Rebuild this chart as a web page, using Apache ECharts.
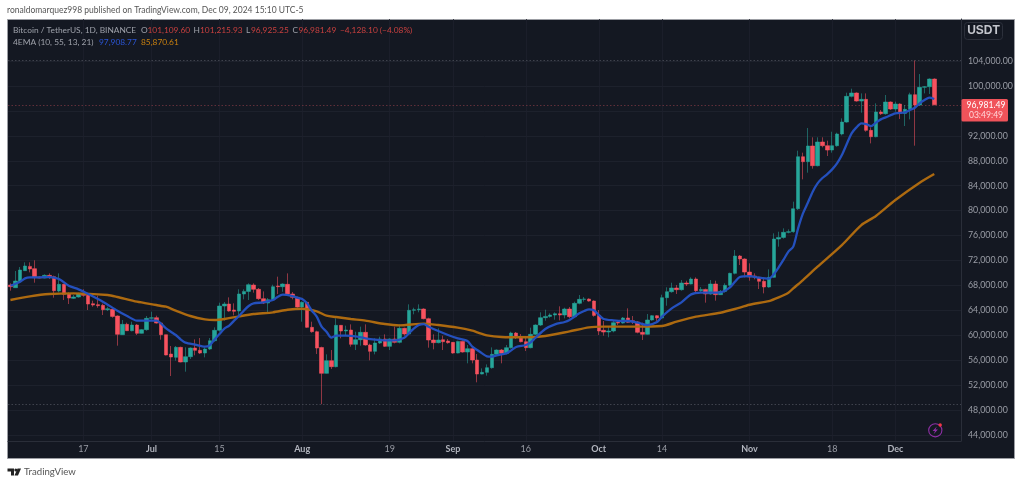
<!DOCTYPE html>
<html><head><meta charset="utf-8">
<style>html,body{margin:0;padding:0;background:#fff}#c{width:1023px;height:484px}</style>
<script src="https://cdn.jsdelivr.net/npm/echarts@6/dist/echarts.min.js"></script>
</head><body><div id="c"></div>
<script>
// each row: open, close, low, high — daily from 2024-06-02
const candles = [
[68070,67800,67160,68340],[67640,68710,67640,70320],[68600,70480,68600,70960],[70370,71120,70370,71710],[71060,70640,70100,71710],
[70690,69250,68440,72030],[69350,69190,69140,69460],[69190,69620,69140,69780],[69620,69410,69030,69940],[69410,67160,66040,69570],
[67110,68180,66890,69940],[68180,66570,65660,68280],[66680,65980,65020,66890],[65930,66150,65820,66470],[66150,66630,66040,66840],
[66730,66410,66200,67380],[66410,65020,64060,66730],[65080,64860,64590,65560],[64920,64760,64430,66360],[64810,64110,63260,65080],
[64110,64270,63900,64590],[64170,63040,62830,64330],[63100,60160,58340,63200],[60100,61760,60050,62460],[61760,60740,60690,62030],
[60740,61650,60640,62190],[61650,60320,60050,61810],[60320,60910,60260,61010],[60910,62720,60740,63100],[62720,62830,62510,63790],
[62830,61970,61870,63150],[61970,60100,59300,62030],[60100,56840,56790,60100],[57000,56520,53470,58290],[56470,58070,55930,58290],
[58070,55720,55670,58180],[55720,56570,54170,58070],[56570,57960,56200,58070],[57960,57590,56790,59350],[57590,57160,57000,59570],
[57160,57800,56470,58070],[57800,59140,57640,59570],[59140,60800,58980,61280],[60800,64700,60580,65240],[64700,65020,62350,65340],
[65020,63900,63790,66090],[64060,63850,63200,65130],[63900,66630,63260,67380],[66630,67050,65770,67380],[67050,68120,65660,68340],
[68070,67380,66840,68340],[67380,65880,65660,67590],[65880,65180,65020,67050],[65180,65720,63420,65980],[65720,67800,65560,68120],
[67910,67800,66630,69410],[67800,68230,66990,68340],[68180,66630,66520,69940],[66630,66090,65770,66950],[66090,64540,64430,66200],
[64540,65290,62190,65450],[65290,61280,61170,65400],[61280,60580,60420,62190],[60580,57960,57000,60740],[58050,53900,48950,58180],
[53900,55930,53850,56950],[55930,54970,54600,57640],[54970,61600,54860,62720],[61600,60690,59520,61650],[60690,60850,60050,61550],
[60850,58550,58180,61760],[58550,59300,57640,60580],[59300,60480,58340,61390],[60480,58450,58340,61760],[58450,57430,55990,58660],
[57430,58770,56950,59520],[58770,59410,58610,59780],[59410,58230,58130,60160],[58230,59410,57640,59520],[59410,58870,58710,61390],
[58870,61120,58710,61760],[61120,60210,59940,61230],[60210,64010,60160,64970],[64010,64110,63370,64430],[64110,64220,63690,64970],
[64220,62670,62560,64330],[62670,59250,58020,62830],[59250,58820,57750,60160],[58820,59250,58710,61120],[59300,58980,57640,59940],
[59090,58820,58660,59410],[58870,57160,57050,58930],[57160,59030,57110,59140],[59030,57320,57220,59190],[57320,57860,55510,58450],
[57860,56040,55510,58180],[56040,53790,52460,57000],[53790,54060,53740,54700],[54060,54810,53530,55340],[54810,56950,54650,58070],
[56950,57640,56730,57750],[57640,57110,55510,57800],[57110,58020,56950,58450],[58020,60370,57860,60580],[60370,59680,59410,60530],
[59680,58980,58870,60210],[58980,58020,57480,59780],[58020,60160,57910,61230],[60160,61650,60050,61760],[61650,62830,61490,63690],
[62830,63040,62350,64110],[63040,63260,62830,63530],[63260,63470,62510,63690],[63470,63260,62400,64650],[63260,64220,62720,64430],
[64220,62990,62720,64540],[62990,65130,62830,65400],[65130,65770,64970,66470],[65770,65820,65400,66150],[65820,65500,65400,65930],
[65500,63200,62990,65610],[63200,60690,60050,64060],[60800,60530,59940,62300],[60530,60690,59680,61390],[60690,62030,60480,62300],
[62080,61970,61650,62460],[61970,62780,61870,62940],[62780,62080,61970,64330],[62350,62130,61810,63100],[62130,60480,60320,62300],
[60480,60160,59250,62030],[60160,62460,60100,63420],[62460,63150,62350,63260],[63150,62780,62300,63260],[62780,66040,62670,66520],
[66040,67000,64750,67700],[67000,67590,66840,68440],[67590,67320,66630,68070],[67320,68390,67160,68870],[68390,68230,67910,68760],
[68230,69030,68180,69300],[69030,67160,66950,69300],[67160,67370,66950,67750],[67370,66630,65240,67480],[66630,68230,66520,68870],
[68230,66520,65560,68760],[66520,67050,66470,67270],[67050,68020,66840,68340],[68020,69940,67800,70050],[69940,72720,69780,73680],
[72720,72240,71280,72880],[72240,70150,69300,72350],[70150,69350,68760,71550],[69510,69350,68980,69940],[69300,68660,67430,69410],
[68660,67750,66730,69300],[67750,69300,67640,70580],[69300,75450,69230,76360],[75450,75710,74220,76620],[75710,76520,75500,77160],
[76520,76620,76360,77000],[76620,80310,76460,81440],[80310,88650,80100,89620],[88650,87850,85020,89300],[87850,90370,86090,93250],
[90370,87210,86730,91760],[87210,91010,87100,91760],[91010,90420,90150,91760],[90420,89720,88760,91220],[89720,90420,89300,92660],
[90420,92290,90260,92500],[92290,94210,92070,94800],[94210,98330,94100,98920],[98330,98870,98170,99560],[98870,97580,97480,98970],
[97580,97850,95710,98810],[97850,92880,92660,98810],[92880,91860,90790,93360],[91860,95820,91760,97210],[95820,95550,95340,96140],
[95550,97420,95390,98550],[97420,96300,96140,97530],[96300,97100,95870,97480],[97100,95600,94700,97210],[95600,96250,93570,96940],
[96250,98600,94640,98920],[98600,96940,90420,104090],[96940,99780,96780,101910],[99780,99880,98810,99990],[99880,101110,98710,101220],
[101109.6,96981.49,96925.25,101215.93]
];
// [day number from the first candle, value]
const emaFast = [[0,67960],[2,68600],[3,69140],[4,69300],[6,69300],[8,69350],[10,69030],[12,67960],[14,67380],[16,66630],[19,65400],[22,63950],[24,63100],[26,62350],[28,62350],[30,62350],[32,61120],[33,60580],[34,60050],[35,59350],[36,58820],[38,58500],[40,58180],[41,58390],[42,59350],[43,60210],[44,61070],[45,61550],[46,62350],[47,63100],[48,63950],[49,64700],[50,65130],[52,65290],[54,65660],[55,66200],[56,66520],[58,66300],[59,66040],[60,65820],[61,65130],[62,63950],[63,63000],[64,61390],[65,60580],[66,59620],[67,59940],[69,59940],[71,59840],[73,59520],[75,59300],[77,59190],[79,59190],[81,59620],[82,60370],[83,61120],[84,61650],[85,61810],[86,61390],[88,60690],[90,60050],[92,59520],[94,59090],[95,58180],[96,57640],[97,57110],[98,56630],[99,56570],[100,56790],[102,57110],[103,57590],[104,58130],[106,58450],[107,58870],[108,59620],[110,61010],[112,61760],[114,62140],[115,62460],[116,62990],[117,63530],[118,63900],[119,64170],[120,64010],[121,63260],[122,62620],[124,62400],[126,62300],[127,62300],[129,62030],[131,61650],[133,62130],[134,62990],[136,64330],[138,65290],[140,66570],[142,66840],[144,66840],[146,66890],[148,67700],[149,68600],[150,69350],[152,69510],[154,69250],[156,69090],[157,69800],[158,70900],[159,72130],[160,73420],[161,74220],[162,77160],[163,79560],[164,81270],[165,83040],[166,84380],[167,85230],[168,85870],[169,86620],[170,87580],[171,88920],[172,90690],[173,92400],[174,93360],[175,94000],[176,93890],[177,93570],[178,94110],[179,94640],[180,94960],[182,95600],[184,95770],[185,96140],[186,96510],[187,97210],[188,97740],[189,98120],[190,97908.77]];
const emaSlow = [[0,65660],[4,66250],[8,66630],[13,66730],[20,66470],[22,66150],[26,65400],[30,64860],[31,64700],[32,64590],[34,63950],[37,63100],[40,62560],[42,62460],[44,62620],[47,63040],[50,63420],[54,63690],[57,64110],[60,64270],[63,63850],[65,63150],[67,62940],[70,62620],[73,62350],[77,61810],[80,61600],[85,61870],[88,61650],[92,61230],[95,60750],[96,60480],[98,60000],[101,59730],[106,59680],[110,59890],[115,60640],[119,61280],[122,61390],[127,61390],[128,61390],[134,61490],[137,62190],[141,62990],[146,63630],[149,64220],[152,64910],[156,65500],[158,66090],[160,66840],[161,67530],[163,68870],[166,71010],[171,74480],[175,77690],[178,79140],[182,81700],[187,84480],[190,85870.61]];
const xTickDates = ['2024-06-17','2024-07-01','2024-07-15','2024-08-01','2024-08-19','2024-09-01','2024-09-16','2024-10-01','2024-10-14','2024-11-01','2024-11-18','2024-12-01'];
const xTickLabels = ['17','Jul','15','Aug','19','Sep','16','Oct','14','Nov','18','Dec'];
const yTicks = [44000,48000,52000,56000,60000,64000,68000,72000,76000,80000,84000,88000,92000,96000,100000,104000];
const highLine = 104088, lowLine = 48950, lastPrice = 96981.49;
const emptyDaysAfter = 5;

const FONT = 'Lato, sans-serif';
const categories = [];
for (let i = 0; i < candles.length + emptyDaysAfter; i++) {
  categories.push(new Date(Date.UTC(2024, 5, 2 + i)).toISOString().slice(0, 10));
}
const fmt = v => v.toLocaleString('en-US', {minimumFractionDigits: 2, maximumFractionDigits: 2});
const pairs = a => a.map(p => [categories[p[0]], p[1]]);

const txt = (x, y, s, fill, size, extra) => ({type: 'text', x, y, silent: true, z: 50,
  style: Object.assign({text: s, fill, font: `${size || 9}px ${FONT}`, textVerticalAlign: 'middle'}, extra || {})});

const G = '#9ea1aa', R = '#c9403f', LS = 8.35;
const graphic = [
  {type: 'rect', z: -10, silent: true, shape: {x: 7.5, y: 19.5, width: 1007, height: 439},
   style: {fill: '#141822', stroke: '#9b9da3', lineWidth: 1}},
  txt(7, 10.5, 'ronaldomarquez998 published on TradingView.com, Dec 09, 2024 15:10 UTC-5', '#565656', 8.5),
  txt(13, 30, 'Bitcoin / TetherUS, 1D, BINANCE', G, LS),
  txt(141, 30, 'O', G, LS), txt(147.5, 30, '101,109.60', R, LS),
  txt(193.5, 30, 'H', G, LS), txt(200, 30, '101,215.93', R, LS),
  txt(246, 30, 'L', G, LS), txt(251, 30, '96,925.25', R, LS),
  txt(292.5, 30, 'C', G, LS), txt(298.5, 30, '96,981.49', R, LS),
  txt(340, 30, '\u22124,128.10 (\u22124.08%)', R, LS),
  txt(13, 42, '4EMA (10, 55, 13, 21)', G, LS),
  txt(99, 42, '97,908.77', '#2a55d6', LS),
  txt(141, 42, '85,870.61', '#c9800f', LS),
  {type: 'rect', z: 50, silent: true, shape: {x: 964.5, y: 22.5, width: 38, height: 17, r: 3},
   style: {fill: '#141822', stroke: '#2c303b', lineWidth: 1}},
  txt(983.5, 31, 'USDT', '#c4c6cd', 9, {textAlign: 'center', fontWeight: 'bold'}),
  {type: 'rect', z: 50, silent: true, shape: {x: 961.5, y: 99, width: 46.5, height: 22.5, r: 1.5}, style: {fill: '#f0535a'}},
  txt(986, 105, fmt(lastPrice), '#ffffff', 8.6, {textAlign: 'center'}),
  txt(986, 115, '03:49:49', '#ffd5d8', 8.6, {textAlign: 'center'}),
  // lightning badge
  {type: 'circle', z: 50, silent: true, shape: {cx: 935.3, cy: 430.3, r: 6.6}, style: {fill: 'none', stroke: '#8e2fa6', lineWidth: 1.1}},
  {type: 'polygon', z: 50, silent: true, shape: {points: [[936.8,426.5],[932.6,431],[935,431],[933.6,434.2],[937.9,429.6],[935.5,429.6]]}, style: {fill: '#8e2fa6'}},
  {type: 'circle', z: 51, silent: true, shape: {cx: 940.2, cy: 425, r: 1.7}, style: {fill: '#f23645'}},
  // TradingView wordmark
  {type: 'polygon', z: 50, silent: true, shape: {points: [[7.5,468.5],[14,468.5],[14,475.5],[11,475.5],[11,471.5],[7.5,471.5]]}, style: {fill: '#222'}},
  {type: 'circle', z: 50, silent: true, shape: {cx: 15.8, cy: 470, r: 1.5}, style: {fill: '#222'}},
  {type: 'polygon', z: 50, silent: true, shape: {points: [[17.5,468.5],[21,468.5],[18,475.5],[14.5,475.5]]}, style: {fill: '#222'}},
  txt(24, 472, 'TradingView', '#555', 9.6)
];

const chart = echarts.init(document.getElementById('c'), null, {renderer: 'canvas'});
const thin = (color, type) => ({symbol: 'none', silent: true, animation: false, label: {show: false},
  lineStyle: {color, width: 0.8, type: type || 'solid'}});
chart.setOption({
  animation: false,
  backgroundColor: 'transparent',
  graphic,
  grid: {left: 8, right: 62, top: 19, bottom: 43},
  xAxis: {
    type: 'category', data: categories, boundaryGap: true,
    axisLine: {show: true, lineStyle: {color: '#2a2e39'}},
    axisTick: {show: false},
    splitLine: {show: false},
    axisLabel: {
      interval: (i, v) => xTickDates.includes(v),
      margin: 4,
      hideOverlap: false,
      formatter: v => {
        const s = xTickLabels[xTickDates.indexOf(v)];
        return /\d/.test(s) ? `{d|${s}}` : `{m|${s}}`;
      },
      rich: {
        d: {color: '#9a9da6', fontSize: 9, fontFamily: FONT},
        m: {color: '#b2b5be', fontSize: 9, fontWeight: 'bold', fontFamily: FONT}
      }
    }
  },
  yAxis: {
    type: 'value', position: 'right', scale: true, min: 43050, max: 110740,
    axisLine: {show: true, lineStyle: {color: '#2a2e39'}},
    axisTick: {show: false, customValues: yTicks},
    splitLine: {show: true, lineStyle: {color: '#1d212c', width: 1}},
    axisLabel: {customValues: yTicks, color: '#9a9da6', fontSize: 8.8, fontFamily: FONT, margin: 7,
      formatter: v => fmt(v)}
  },
  series: [
    {type: 'line', data: [], silent: true, z: 1,
     markLine: Object.assign(thin('#1d212c'), {z: 1, data: xTickDates.map(d => ({xAxis: d}))})},
    {type: 'candlestick', z: 3, barWidth: '82%', data: candles, silent: true,
     itemStyle: {color: '#26a69a', color0: '#f7525f', borderColor: '#26a69a', borderColor0: '#f7525f', borderWidth: 0.55},
     markLine: {symbol: 'none', silent: true, label: {show: false}, z: 2, data: [
       {yAxis: highLine, lineStyle: {color: '#4a4e58', width: 0.8, type: [1.5, 2]}},
       {yAxis: lowLine, lineStyle: {color: '#4a4e58', width: 0.8, type: [1.5, 2]}},
       {yAxis: lastPrice, lineStyle: {color: '#743640', width: 0.8, type: [1.5, 2]}}
     ]}},
    {type: 'line', z: 4, data: pairs(emaSlow), symbol: 'none', smooth: 0.25, silent: true,
     lineStyle: {color: '#ad6a10', width: 2.4}},
    {type: 'line', z: 5, data: pairs(emaFast), symbol: 'none', smooth: 0.25, silent: true,
     lineStyle: {color: '#2450bd', width: 2.3}}
  ]
});
</script></body></html>
